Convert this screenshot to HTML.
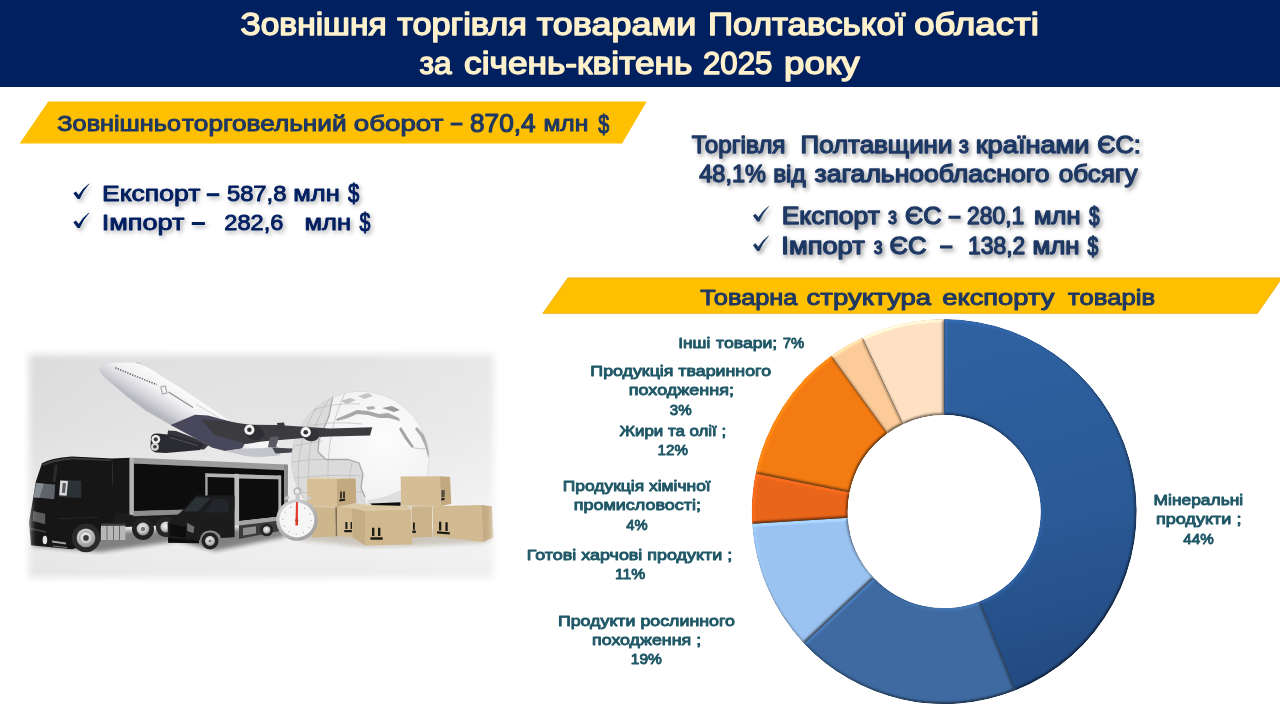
<!DOCTYPE html>
<html><head><meta charset="utf-8"><title>Зовнішня торгівля</title>
<style>
html,body{margin:0;padding:0;background:#fff;}
body{width:1280px;height:720px;overflow:hidden;font-family:"Liberation Sans",sans-serif;}
svg{display:block}
text{font-family:"Liberation Sans",sans-serif;font-weight:normal;stroke-linejoin:round;}
</style></head><body>
<svg width="1280" height="720" viewBox="0 0 1280 720">
<defs>
<filter id="ts" x="-5%" y="-30%" width="110%" height="170%"><feDropShadow dx="2" dy="2.4" stdDeviation="2" flood-color="#000" flood-opacity="0.3"/></filter>
<filter id="ts2" x="-5%" y="-30%" width="110%" height="170%"><feDropShadow dx="2" dy="2.5" stdDeviation="2" flood-color="#000" flood-opacity="0.4"/></filter>
<path id="chk" d="M73.3,193.3 L75.9,191.4 L78.7,194.9 Q82.6,188.4 88.5,184.1 L89.7,183.5 Q83.4,190.2 79.7,199.1 L77.7,199.1 Z"/>
</defs>
<rect width="1280" height="720" fill="#fff"/>
<rect x="0" y="0" width="1280" height="87" fill="#002060"/>
<g fill="#FFF2CC" stroke="#FFF2CC" opacity="0.999"><text transform="matrix(1.0806 0 0 1 240.49 35)" font-size="31" stroke-width="1.43">Зовнішня</text>
<text transform="matrix(1.1074 0 0 1 397.13 35)" font-size="31" stroke-width="1.43">торгівля</text>
<text transform="matrix(1.1614 0 0 1 536.75 35)" font-size="31" stroke-width="1.43">товарами</text>
<text transform="matrix(1.1252 0 0 1 708.01 35)" font-size="31" stroke-width="1.43">Полтавської</text>
<text transform="matrix(1.1808 0 0 1 914.26 35)" font-size="31" stroke-width="1.43">області</text>
<text transform="matrix(1.0220 0 0 1 419.46 74)" font-size="31" stroke-width="1.43">за</text>
<text transform="matrix(1.1382 0 0 1 464.04 74)" font-size="31" stroke-width="1.43">січень-квітень</text>
<text transform="matrix(1.0073 0 0 1 702.94 74)" font-size="31" stroke-width="1.43">2025</text>
<text transform="matrix(1.1859 0 0 1 783.99 74)" font-size="31" stroke-width="1.43">року</text></g>
<polygon points="48.3,101.5 646.7,101.5 622.1,143.4 19.6,143.4" fill="#FFC001"/>
<polygon points="567.9,277.9 1282,277.9 1257.5,313.3 542.9,313.3" fill="#FFC001" stroke="#F0AE12" stroke-width="0.9"/>
<g fill="#1F3864" stroke="#1F3864" opacity="0.999"><text transform="matrix(1.1267 0 0 1 57.36 131)" font-size="22.4" stroke-width="1.01">Зовнішньо</text>
<text transform="matrix(1.1713 0 0 1 182.11 131)" font-size="22.4" stroke-width="1.01">торговельний</text>
<text transform="matrix(1.2361 0 0 1 353.84 131)" font-size="22.4" stroke-width="1.01">оборот</text>
<text transform="matrix(1.1004 0 0 1 543.40 131)" font-size="22.4" stroke-width="1.01">млн</text>
<text transform="matrix(1.0013 0 0 1 470.01 132)" font-size="26.2" stroke-width="1.18">870,4</text>
<text transform="matrix(0.7680 0 0 1 598.28 133)" font-size="25.6" stroke-width="1.15">$</text>
<text transform="matrix(1.1321 0 0 1 700.36 305)" font-size="22.4" stroke-width="1.01">Товарна</text>
<text transform="matrix(1.2297 0 0 1 806.50 305)" font-size="22.4" stroke-width="1.01">структура</text>
<text transform="matrix(1.2194 0 0 1 942.21 305)" font-size="22.4" stroke-width="1.01">експорту</text>
<text transform="matrix(1.1468 0 0 1 1068.11 305)" font-size="22.4" stroke-width="1.01">товарів</text>
<rect x="450.60" y="122.60" width="11.90" height="2.90" stroke="none"/></g>
<defs>
<filter id="feath" x="-5%" y="-8%" width="110%" height="116%"><feGaussianBlur stdDeviation="3.6"/></filter>
<mask id="pm" maskUnits="userSpaceOnUse" x="0" y="330" width="520" height="280"><rect x="29" y="354.5" width="464.5" height="223" fill="#fff" filter="url(#feath)"/></mask>
<filter id="soft" x="-2%" y="-2%" width="104%" height="104%"><feGaussianBlur stdDeviation="0.45"/></filter>
<filter id="gb" x="-10%" y="-10%" width="120%" height="120%"><feGaussianBlur stdDeviation="0.7"/></filter>
<filter id="b2"><feGaussianBlur stdDeviation="2"/></filter>
<filter id="b1"><feGaussianBlur stdDeviation="1"/></filter>
<linearGradient id="pbg" x1="0" y1="0" x2="0" y2="1"><stop offset="0" stop-color="#E0E0E0"/><stop offset="0.35" stop-color="#E5E5E5"/><stop offset="0.68" stop-color="#EFEFEF"/><stop offset="0.85" stop-color="#EEEEEE"/><stop offset="1" stop-color="#E6E6E6"/></linearGradient>
<linearGradient id="pbg2" x1="0" y1="0" x2="1" y2="0"><stop offset="0" stop-color="#000" stop-opacity="0.03"/><stop offset="0.6" stop-color="#fff" stop-opacity="0"/><stop offset="1" stop-color="#fff" stop-opacity="0.25"/></linearGradient>
<linearGradient id="fus" gradientUnits="userSpaceOnUse" x1="176" y1="381" x2="156" y2="413"><stop offset="0" stop-color="#FCFCFC"/><stop offset="0.45" stop-color="#F1F1F3"/><stop offset="0.78" stop-color="#D2D2D8"/><stop offset="1" stop-color="#B6B6BE"/></linearGradient>
<radialGradient id="glb" gradientUnits="userSpaceOnUse" cx="385" cy="440" r="95"><stop offset="0" stop-color="#FCFCFC"/><stop offset="0.6" stop-color="#F3F3F3"/><stop offset="0.85" stop-color="#E9E9E9"/><stop offset="1" stop-color="#DADADA"/></radialGradient>
<clipPath id="gclip"><circle cx="360.4" cy="460" r="69"/></clipPath>
<radialGradient id="swr" cx="0.4" cy="0.35" r="0.7"><stop offset="0" stop-color="#F2F2F2"/><stop offset="1" stop-color="#9C9C9C"/></radialGradient>
<radialGradient id="hub" cx="0.45" cy="0.4" r="0.6"><stop offset="0" stop-color="#F4F4F4"/><stop offset="0.6" stop-color="#C9C9C9"/><stop offset="1" stop-color="#8A8A8A"/></radialGradient>
</defs>
<g mask="url(#pm)"><g filter="url(#soft)">
<rect x="10" y="335" width="500" height="260" fill="url(#pbg)"/>
<rect x="10" y="335" width="500" height="260" fill="url(#pbg2)"/>
<!-- floor shadows -->
<path d="M30,546 L100,552 L178,541 L215,551 L285,537 L285,528 L60,532 Z" fill="#000" opacity="0.45" filter="url(#b2)"/>
<path d="M300,540 L365,547 L412,546 L483,543 L493,538 L493,530 L300,530 Z" fill="#8a7a60" opacity="0.35" filter="url(#b2)"/>

<!-- GLOBE -->
<circle cx="360.4" cy="460" r="69" fill="url(#glb)"/>
<g clip-path="url(#gclip)"><g filter="url(#gb)">
<!-- atlantic ocean -->
<path d="M333,395 L329,416 L319,440 L318,452 L326,459.5 L348,459.5 L359,463 L363,474 L361,488 L365,497 L368,520 L280,520 L280,395 Z" fill="#DBDBDB"/>
<path d="M333,395 L329,416 L319,440 L318,452 L326,459.5 L348,459.5 L359,463 L363,474 L361,488 L365,497" fill="none" stroke="#A9A9A9" stroke-width="1.3"/>
<!-- grid -->
<g fill="none" stroke="#B4B4B4" stroke-width="0.6">
<path d="M300,428 Q330,420 362,424"/><path d="M294,446 Q325,440 322,441"/><path d="M292,462 Q312,459 326,459.5"/><path d="M294,478 Q330,474 362,476"/><path d="M300,493 Q330,490 364,492"/>
<path d="M330,398 Q300,440 312,505"/><path d="M318,405 Q292,445 300,500"/><path d="M345,393 Q322,440 330,505"/><path d="M352,462 Q348,480 350,505"/>
<path d="M306,413 Q330,402 360,404"/>
</g>
<!-- mediterranean / europe shading -->
<path d="M336,419 L348,414 L357,410 L368,411 L379,414 L388,413 L399,418 L400,421 L389,418 L379,418 L368,415 L357,414 L348,418 L337,421 Z" fill="#A8A8A8"/>
<path d="M382,408 L392,406 L400,410 L394,412 Z" fill="#9A9A9A"/>
<path d="M366,407 L374,406 L375,409 L368,410 Z" fill="#AFAFAF"/>
<path d="M341,401 L350,398 L356,400 L347,404 Z" fill="#C2C2C2"/>
<path d="M358,396 L368,393 L373,396 L364,399 Z" fill="#C4C4C4"/>
<!-- red sea / arabia -->
<path d="M401,427 L408,438 L414,447 L412,448 L405,439 L399,429 Z" fill="#A2A2A2"/>
<path d="M417,427 L424,435 L428,446 L430,456 L428,457 L425,446 L421,437 L415,429 Z" fill="#ABABAB"/>
<path d="M414,448 L424,449 L428,446" fill="none" stroke="#BDBDBD" stroke-width="0.8"/>
<path d="M430,440 Q436,470 425,498 L440,500 L440,430 Z" fill="#DCDCDC"/>
<!-- lower shading -->
<path d="M368,500 Q395,497 420,478 L425,520 L365,520 Z" fill="#D9D9D9" opacity="0.8"/>
</g></g>
<circle cx="360.4" cy="460" r="68.6" fill="none" stroke="#CFCFCF" stroke-width="0.6"/>

<!-- PLANE -->
<path d="M168,430.5 L176,431 L210,443.8 L204,449.6 L166,448 Z" fill="#34343A"/>
<path d="M99.4,369 Q99.6,366 102.5,364.8 Q108,363.2 123.75,362.6 Q134,362.4 139,364 Q147,366.8 153.75,370.8 L161.5,376.3 L180,387.5 L202.5,402.5 L228.75,420.3 L277.5,443.75 L281.5,452 L279.4,455.4 L258.75,457.3 L245.6,455.9 L230.6,452.2 L211.9,447.5 L195,438.1 L170.6,425 L146.25,410.9 L127.5,396.9 L108.75,380.9 Q99.5,373.5 99.4,369 Z" fill="url(#fus)"/>
<path d="M170.6,425 L195,414.7 L208,415.5 L251,427 L247,440 L242,448.5 L225,451 L211.9,447.5 L195,438.1 Z" fill="#48475B"/>
<path d="M211.9,447.5 L225,451 L242,448.5 L262,448.2 L277.5,446 L281.5,452 L279.4,455.4 L258.75,457.3 L245.6,455.9 L230.6,452.2 Z" fill="#C4C4CB"/>
<path d="M201,419.5 L226,421.3 L250,424.8 L277.5,425 L330,428.4 L372.3,427.2 L370,435.4 L330,436.4 L313,437.2 L262,441.6 L246,444 L214,434.5 Z" fill="#3B3B40"/>
<path d="M272,447.5 L292.5,448.4 L291.6,452.6 L275.6,453.5 Z" fill="#45454E"/>
<path d="M270,437 L279,436.5 L276,447.2 L268,447.2 Z" fill="#5A5A63"/>
<path d="M277,423 L284,422.6 L285.5,430 L278,430 Z" fill="#37373C"/>
<!-- engine 1 (near, double) -->
<path d="M151,438 Q151,433 158,433.5 L172,435 L203,444 L200,450 L166,453 L156,452.5 Q150,451 150.5,445 Z" fill="#2B2B30"/>
<path d="M170,437.5 L198,445.6" stroke="#55555C" stroke-width="0.9" fill="none"/>
<circle cx="155.8" cy="439.3" r="4.4" fill="#EDEDED"/><circle cx="155.8" cy="439.3" r="2.1" fill="#3A3A3A"/>
<circle cx="154.9" cy="446.8" r="3.9" fill="#D9D9D9"/><circle cx="154.9" cy="446.8" r="1.8" fill="#3A3A3A"/>
<!-- engine 2 -->
<ellipse cx="254.8" cy="433" rx="9.6" ry="7.2" fill="#2F2F34" transform="rotate(14 254.8 433)"/>
<circle cx="249.4" cy="429.8" r="5.1" fill="#F2F2F2"/><circle cx="249.4" cy="429.8" r="2.3" fill="#333"/>
<!-- engine 3 -->
<ellipse cx="310.6" cy="434.6" rx="8.6" ry="6.6" fill="#333338" transform="rotate(14 310.6 434.6)"/>
<circle cx="305.7" cy="432.2" r="5.1" fill="#F4F4F4"/><circle cx="305.7" cy="432.2" r="2.3" fill="#333"/>
<!-- windows -->
<path d="M115.3,367.8 L156.6,384.7" stroke="#5A5A5A" stroke-width="1.6" stroke-dasharray="1.2 1.4" fill="none"/>
<path d="M168.5,392 L193,407.5" stroke="#8C8C8C" stroke-width="1.1" fill="none"/>
<rect x="161.6" y="386.2" width="4.6" height="7.4" fill="#F4F4F4" stroke="#9A9A9A" stroke-width="0.9" transform="rotate(-14 164 390)"/>
<path d="M136,362.6 L141,363.6" stroke="#C8C8C8" stroke-width="1" fill="none"/>
<path d="M196,404 L221,419" stroke="#C9C9CF" stroke-width="0.8" fill="none"/>

<!-- TRUCK -->
<!-- chassis -->
<path d="M100,513 L200,509 L200,524 L100,528 Z" fill="#1E1E1E"/>
<!-- rear wheels -->
<circle cx="166" cy="527" r="10.2" fill="#262626"/><circle cx="166" cy="527" r="5.6" fill="url(#hub)"/>
<circle cx="143" cy="529" r="11" fill="#232323"/><circle cx="143" cy="529" r="6.4" fill="url(#hub)"/><circle cx="143" cy="529" r="2.2" fill="#777"/>
<!-- trailer -->
<path d="M112,458.5 L130,457.8 L130,513.5 L113,513.5 Z" fill="#171717"/>
<path d="M133,457.8 L287,464.5 L287,470.5 L133,463.6 Z" fill="#9C9C9C"/>
<path d="M133.5,463.4 L285,470.2 L285,507 L133.5,511.2 Z" fill="#0C0C0C"/>
<path d="M133.5,511 L285,506.8 L285,510.6 L133.5,516.2 Z" fill="#8D8D8D"/>
<path d="M129.4,457.5 L133.8,457.9 L133.8,515.5 L129.4,514.5 Z" fill="#B2B2B2"/>
<path d="M284,464.4 L288,464.8 L288,508 L284,508 Z" fill="#8C8C8C"/>
<!-- tanks -->
<rect x="101" y="525.3" width="24.5" height="14.7" fill="#B7B7B7"/>
<path d="M107,525.3 V540 M113.5,525.3 V540 M119.5,525.3 V540" stroke="#6A6A6A" stroke-width="1"/>
<rect x="101" y="523.5" width="24.5" height="2.2" fill="#3A3A3A"/>
<!-- cab -->
<path d="M42,463.2 Q50,458.2 72,456.4 L112,458.4 L114,521 L101,523 L100.5,541 L72,549.3 L31,545.2 L29,522 L32,504.4 L36,481 Z" fill="#131313"/>
<path d="M42.5,464 Q52,459.5 72,457.6 L111,459.4 L111,461 L72,459.5 Q54,461 43,466 Z" fill="#3A3A3A"/>
<path d="M36.3,483 L55.2,484.6 L54.2,499.2 L33.6,497.3 Z" fill="#5E636A"/>
<path d="M36.3,483 L44,483.7 L39.5,497.8 L33.6,497.3 Z" fill="#858B93"/>
<path d="M60,479.8 L81.3,480.8 L81.3,498 L58.8,497 Z" fill="#2C3036"/>
<path d="M60.3,480.6 L68,481 L66.6,495.8 L59.2,495.2 Z" fill="#DADADA"/><path d="M62.6,483 L66,483.2 L65,493 L62,492.8 Z" fill="#555A60"/>
<path d="M54.5,464.5 L58,464.7 L55.5,482 L52.8,481.8 Z" fill="#2C2C2C"/>
<path d="M33,511 L45.2,513.8 L45.2,524.3 L32.6,521 Z" fill="#5C5C5C"/>
<path d="M30,527.5 L46,531 L46,533 L30,529.5 Z" fill="#3C3C3C"/>
<ellipse cx="44.9" cy="540" rx="2.3" ry="4.2" fill="#E2E2E2"/>
<path d="M52,540.6 L66,542.6 L66,544.4 L52,542.4 Z" fill="#A0A0A0"/>
<path d="M53,546 L67,547.6" stroke="#777" stroke-width="1" fill="none"/>
<path d="M58,518.5 L98,517.5" stroke="#2E2E2E" stroke-width="0.8" fill="none"/>
<!-- front wheel -->
<circle cx="86" cy="537.9" r="14.3" fill="#2A2A2A"/><circle cx="86" cy="537.9" r="9.4" fill="url(#hub)"/><circle cx="86" cy="537.9" r="6.4" fill="none" stroke="#9A9A9A" stroke-width="1"/><circle cx="86" cy="537.9" r="2.8" fill="#3A3A3A"/>

<!-- VAN -->
<path d="M239,524 L279.5,519 L279.5,531 L239,539 Z" fill="#3A3A3A"/>
<path d="M243,528 L256,526.2 L256,533.6 L243,535.6 Z" fill="#8E8E8E"/>
<circle cx="266.7" cy="530" r="6.3" fill="#222"/><circle cx="266.7" cy="530" r="3.7" fill="url(#hub)"/>
<path d="M205.5,473.3 L280.5,475.5 L280.5,479.7 L205.5,477.4 Z" fill="#B4B4B4"/>
<path d="M207,477 L234.8,477.8 L234.8,497.5 L207,496.5 Z" fill="#0E0E0E"/>
<path d="M205.3,473.3 L207.6,473.4 L207.6,496.5 L205.3,496.5 Z" fill="#A8A8A8"/>
<path d="M239,479 L279,479.6 L279,516.8 L239,521.2 Z" fill="#0A0A0A"/>
<path d="M239,521 L279.8,516.6 L279.8,520.6 L239,525.6 Z" fill="#A4A4A4"/>
<rect x="234.4" y="473.8" width="4.7" height="51.8" fill="#BEBEBE"/>
<path d="M278.4,475.5 L281.2,475.6 L281.2,520.2 L278.4,520.6 Z" fill="#B2B2B2"/>
<path d="M196,495.4 L234.6,495.6 L234.6,537.2 L221,538 Q219,530.5 210,530.5 Q201,530.5 199.5,540.5 L168.2,542.6 L167.6,523 L181,512 Z" fill="#1B1B1B"/>
<path d="M196.5,497 L211,498 L198,511.6 L183.2,511.6 Z" fill="#2C3035"/>
<path d="M214,499 L228.5,499.3 L228.5,512.4 L204.5,512.4 Z" fill="#23272B"/>
<path d="M170,524.3 L186,527 L186,537.5 L170,535.6 Z" fill="#080808"/>
<path d="M187.2,522.8 L194.4,526.8 L193.4,533.2 L187.2,531 Z" fill="#6E6E6E"/>
<path d="M168,538 L199,540.5 L199,543.2 L168.3,542.8 Z" fill="#0B0B0B"/>
<circle cx="210" cy="541" r="8.5" fill="#202020"/><circle cx="210" cy="541" r="5" fill="url(#hub)"/><circle cx="210" cy="541" r="1.6" fill="#777"/>

<!-- BOXES -->
<path d="M370,503.6 L400.5,502.3 L400.5,506 L374,506.4 Z" fill="#111"/>
<!-- B -->
<path d="M311,506.7 L335.2,507.4 L335.8,536.4 L312,537.2 Z" fill="#CDB58C"/>
<path d="M335.2,507.4 L337,506.9 L337.5,536 L335.8,536.4 Z" fill="#7E6D50"/>
<!-- C -->
<path d="M336.9,506.9 L352.5,506.3 L352.7,537 L337.5,536.3 Z" fill="#D2BB92"/>
<path d="M336.9,506.9 L356,503.6 L370,505 L352,508.2 Z" fill="#DDCAA6"/>
<!-- G -->
<path d="M411.5,506.2 L432,506.2 L432,537 L412.3,537.6 Z" fill="#CBB48B"/>
<!-- A -->
<path d="M306.9,478.8 L336.9,478.1 L336.9,506.9 L307.5,506.3 Z" fill="#D6BF97"/>
<path d="M336.9,478.1 L355.6,478.5 L356.3,503.1 L336.9,506.9 Z" fill="#C3A980"/>
<path d="M306.9,478.8 L311,477.2 L355.6,478.5 L336.9,478.9 Z" fill="#E2D1B0"/>
<!-- E -->
<path d="M400.6,476.5 L440,476.2 L440.6,506.3 L401.2,505.6 Z" fill="#D5BE96"/>
<path d="M440,476.2 L450,476.9 L451.3,503.8 L440.6,506.3 Z" fill="#C2A87F"/>
<!-- F -->
<path d="M432.5,506.3 L481.3,505 L483,542 L433,536.3 Z" fill="#D1BA91"/>
<path d="M481.3,505 L492,506.3 L493.2,537.5 L483,542 Z" fill="#C4AB83"/>
<!-- D -->
<path d="M351.9,508.1 L365,510.7 L365,545.2 L352.6,537.5 Z" fill="#C5AD85"/>
<path d="M365,510.7 L411.3,509.3 L412.2,544.5 L365,545.2 Z" fill="#D1B98F"/>
<path d="M351.9,508.1 L370,505 L408,506 L411.3,509.3 L365,510.7 Z" fill="#DBC8A3"/>
<!-- symbols -->
<g fill="#1E1B16">
<path d="M370.4,537.3 h12.3 v2.5 h-12.3 z M372,527.8 h2.4 v8.2 h-2.4 z M378,527.8 h2.4 v8.2 h-2.4 z"/>
<path d="M437,531.2 l12.8,1 v2.4 l-12.8,-1 z M439,521.8 h2.3 v8.6 h-2.3 z M445.4,522.2 h2.3 v8.8 h-2.3 z"/>
<path d="M344.3,530 h7.6 v2.3 h-7.6 z M345.4,522 h2 v7 h-2 z M350.6,522 h1.4 v7 h-1.4 z"/>
<path d="M339.3,499.4 l5.8,-0.8 v2.2 l-5.8,0.8 z M340.2,491.6 h1.6 v6.8 h-1.6 z M343.2,491.4 h1.6 v6.6 h-1.6 z"/>
<path d="M441.3,498.3 l3.2,-0.5 v2.2 l-3.2,0.5 z M441.6,490.3 h1.1 v7 h-1.1 z M443.4,490 h1.1 v7 h-1.1 z"/>
<path d="M412.4,530.6 h3.4 v2.3 h-3.4 z M413,522.4 h1.8 v7.4 h-1.8 z"/>
</g>

<!-- STOPWATCH -->
<circle cx="297.5" cy="491.3" r="3.3" fill="none" stroke="#B5B5B5" stroke-width="1.5"/>
<rect x="295.6" y="493" width="4" height="6.5" fill="#C9C9C9"/>
<rect x="284.6" y="496.2" width="4.6" height="3.2" fill="#BDBDBD" transform="rotate(-35 287 498)"/>
<rect x="306.4" y="496.2" width="4.6" height="3.2" fill="#CDCDCD" transform="rotate(35 308.7 498)"/>
<circle cx="296.9" cy="520" r="20.8" fill="url(#swr)"/>
<circle cx="296.9" cy="520" r="17.4" fill="#F6F6F6"/>
<circle cx="296.9" cy="520" r="14.2" fill="none" stroke="#BDBDBD" stroke-width="1.4" stroke-dasharray="1.2 6.23"/>
<path d="M296,502 L297.9,502 L298,525.5 L295.4,525.5 Z" fill="#E23B2B"/>
<circle cx="296.7" cy="520.3" r="1.5" fill="#C93527"/>
</g></g>

<defs>
<linearGradient id="gM" gradientUnits="userSpaceOnUse" x1="960" y1="330" x2="1060" y2="700"><stop offset="0" stop-color="#2F61A1"/><stop offset="0.55" stop-color="#2A5995"/><stop offset="1" stop-color="#22487F"/></linearGradient>
<filter id="bv" x="-5%" y="-5%" width="110%" height="110%" color-interpolation-filters="sRGB">
<feGaussianBlur in="SourceAlpha" stdDeviation="1.8" result="b"/>
<feDiffuseLighting in="b" surfaceScale="2.2" diffuseConstant="1" lighting-color="#fff" result="d"><feDistantLight azimuth="232" elevation="52"/></feDiffuseLighting>
<feComposite in="SourceGraphic" in2="d" operator="arithmetic" k1="0.76" k2="0.4" k3="0" k4="0" result="lit"/>
<feComposite in="lit" in2="SourceAlpha" operator="in"/>
</filter>
</defs>
<g>
<path d="M944.20,511.60 m-191.7,0 a191.7,191.7 0 1 0 383.4,0 a191.7,191.7 0 1 0 -383.4,0 Z M944.20,511.60 m-97.3,0 a97.3,97.3 0 1 1 194.6,0 a97.3,97.3 0 1 1 -194.6,0 Z" fill="#5E5348" fill-rule="evenodd"/>
<path d="M944.20,319.10 A192.5,192.5 0 0 1 1015.06,690.58 L979.72,601.32 A96.5,96.5 0 0 0 944.20,415.10 Z" fill="url(#gM)" filter="url(#bv)"/>
<path d="M1015.06,690.58 A192.5,192.5 0 0 1 803.87,643.38 L873.85,577.66 A96.5,96.5 0 0 0 979.72,601.32 Z" fill="#3E6AA1" filter="url(#bv)"/>
<path d="M803.87,643.38 A192.5,192.5 0 0 1 752.08,523.69 L847.89,517.66 A96.5,96.5 0 0 0 873.85,577.66 Z" fill="#9BC3F1" filter="url(#bv)"/>
<path d="M752.08,523.69 A192.5,192.5 0 0 1 755.58,473.16 L849.64,492.33 A96.5,96.5 0 0 0 847.89,517.66 Z" fill="#E9651A" filter="url(#bv)"/>
<path d="M755.58,473.16 A192.5,192.5 0 0 1 831.05,355.86 L887.48,433.53 A96.5,96.5 0 0 0 849.64,492.33 Z" fill="#F47B12" filter="url(#bv)"/>
<path d="M831.05,355.86 A192.5,192.5 0 0 1 862.24,337.42 L903.11,424.28 A96.5,96.5 0 0 0 887.48,433.53 Z" fill="#FCCB98" filter="url(#bv)"/>
<path d="M862.24,337.42 A192.5,192.5 0 0 1 944.20,319.10 L944.20,415.10 A96.5,96.5 0 0 0 903.11,424.28 Z" fill="#FEE0C2" filter="url(#bv)"/>
</g>
<g fill="#002060" filter="url(#ts)"><g stroke="#002060"><text transform="matrix(1.1799 0 0 1 101.98 201)" font-size="22.5" stroke-width="0.90">Експорт</text>
<text transform="matrix(1.0589 0 0 1 226.89 201)" font-size="22.5" stroke-width="0.90">587,8</text>
<text transform="matrix(1.1331 0 0 1 293.34 201)" font-size="22.5" stroke-width="0.90">млн</text>
<text transform="matrix(0.8077 0 0 1 347.91 202)" font-size="25.2" stroke-width="1.01">$</text>
<text transform="matrix(1.2045 0 0 1 101.65 230)" font-size="22.5" stroke-width="0.90">Імпорт</text>
<text transform="matrix(1.0487 0 0 1 224.32 230)" font-size="22.5" stroke-width="0.90">282,6</text>
<text transform="matrix(1.1344 0 0 1 304.54 230)" font-size="22.5" stroke-width="0.90">млн</text>
<text transform="matrix(0.7765 0 0 1 359.55 231)" font-size="25.2" stroke-width="1.01">$</text>
<rect x="206.75" y="193.20" width="12.50" height="3.00" stroke="none"/>
<rect x="191.75" y="222.00" width="13.15" height="3.00" stroke="none"/></g>
<use href="#chk" x="0" y="0"/><use href="#chk" x="0" y="29"/>
</g>
<g fill="#1F3864" filter="url(#ts2)"><g stroke="#1F3864"><text transform="matrix(1.0413 0 0 1 691.78 153)" font-size="23.3" stroke-width="1.28">Торгівля</text>
<text transform="matrix(1.1119 0 0 1 800.57 153)" font-size="23.3" stroke-width="1.28">Полтавщини</text>
<text transform="matrix(0.9518 0 0 1 958.78 153)" font-size="23.3" stroke-width="1.28">з</text>
<text transform="matrix(1.1682 0 0 1 975.71 153)" font-size="23.3" stroke-width="1.28">країнами</text>
<text transform="matrix(1.0941 0 0 1 1097.16 153)" font-size="23.3" stroke-width="1.28">ЄС:</text>
<text transform="matrix(1.0100 0 0 1 699.27 182)" font-size="23.3" stroke-width="1.28">48,1%</text>
<text transform="matrix(1.0430 0 0 1 773.18 182)" font-size="23.3" stroke-width="1.28">від</text>
<text transform="matrix(1.1389 0 0 1 814.60 182)" font-size="23.3" stroke-width="1.28">загальнообласного</text>
<text transform="matrix(1.1170 0 0 1 1058.77 182)" font-size="23.3" stroke-width="1.28">обсягу</text>
<text transform="matrix(1.1386 0 0 1 781.63 224)" font-size="23.3" stroke-width="1.28">Експорт</text>
<text transform="matrix(0.8481 0 0 1 888.07 224)" font-size="23.3" stroke-width="1.28">з</text>
<text transform="matrix(1.0874 0 0 1 904.96 224)" font-size="23.3" stroke-width="1.28">ЄС</text>
<text transform="matrix(0.9826 0 0 1 966.96 224)" font-size="23.3" stroke-width="1.28">280,1</text>
<text transform="matrix(1.0929 0 0 1 1034.05 224)" font-size="23.3" stroke-width="1.28">млн</text>
<text transform="matrix(0.7307 0 0 1 1089.00 225)" font-size="26" stroke-width="1.43">$</text>
<text transform="matrix(1.1702 0 0 1 781.32 254)" font-size="23.3" stroke-width="1.28">Імпорт</text>
<text transform="matrix(0.8340 0 0 1 873.82 254)" font-size="23.3" stroke-width="1.28">з</text>
<text transform="matrix(1.0981 0 0 1 889.61 254)" font-size="23.3" stroke-width="1.28">ЄС</text>
<text transform="matrix(0.9812 0 0 1 968.08 254)" font-size="23.3" stroke-width="1.28">138,2</text>
<text transform="matrix(1.1076 0 0 1 1032.54 254)" font-size="23.3" stroke-width="1.28">млн</text>
<text transform="matrix(0.7469 0 0 1 1087.50 255)" font-size="26" stroke-width="1.43">$</text>
<rect x="948.50" y="215.70" width="12.10" height="3.10" stroke="none"/>
<rect x="940.00" y="245.40" width="12.50" height="3.10" stroke="none"/></g>
<use href="#chk" x="679.6" y="22.4"/><use href="#chk" x="679.6" y="51.9"/>
</g>
<g fill="#205867" stroke="#205867" opacity="0.999"><text transform="matrix(1.1405 0 0 1 678.13 348)" font-size="15.2" stroke-width="0.91">Інші</text>
<text transform="matrix(1.1610 0 0 1 716.04 348)" font-size="15.2" stroke-width="0.91">товари;</text>
<text transform="matrix(0.9774 0 0 1 782.68 348)" font-size="15.2" stroke-width="0.91">7%</text>
<text transform="matrix(1.1716 0 0 1 590.37 376)" font-size="15.2" stroke-width="0.91">Продукція тваринного</text>
<text transform="matrix(1.1859 0 0 1 628.80 395)" font-size="15.2" stroke-width="0.91">походження;</text>
<text transform="matrix(0.9941 0 0 1 669.76 415)" font-size="15.2" stroke-width="0.91">3%</text>
<text transform="matrix(1.1115 0 0 1 619.39 436)" font-size="15.2" stroke-width="0.91">Жири та олії ;</text>
<text transform="matrix(0.9967 0 0 1 657.57 455)" font-size="15.2" stroke-width="0.91">12%</text>
<text transform="matrix(1.1475 0 0 1 562.84 491)" font-size="15.2" stroke-width="0.91">Продукція хімічної</text>
<text transform="matrix(1.1823 0 0 1 573.70 510)" font-size="15.2" stroke-width="0.91">промисловості;</text>
<text transform="matrix(0.9734 0 0 1 626.17 530)" font-size="15.2" stroke-width="0.91">4%</text>
<text transform="matrix(1.1800 0 0 1 526.72 560)" font-size="15.2" stroke-width="0.91">Готові харчові продукти ;</text>
<text transform="matrix(1.0373 0 0 1 614.90 579)" font-size="15.2" stroke-width="0.91">11%</text>
<text transform="matrix(1.1700 0 0 1 557.92 626)" font-size="15.2" stroke-width="0.91">Продукти рослинного</text>
<text transform="matrix(1.1741 0 0 1 592.01 645)" font-size="15.2" stroke-width="0.91">походження ;</text>
<text transform="matrix(1.0219 0 0 1 630.81 664)" font-size="15.2" stroke-width="0.91">19%</text>
<text transform="matrix(1.1445 0 0 1 1153.54 505)" font-size="15.2" stroke-width="0.91">Мінеральні</text>
<text transform="matrix(1.1890 0 0 1 1155.90 524)" font-size="15.2" stroke-width="0.91">продукти ;</text>
<text transform="matrix(0.9983 0 0 1 1183.28 544)" font-size="15.2" stroke-width="0.91">44%</text></g>
</svg>
</body></html>
